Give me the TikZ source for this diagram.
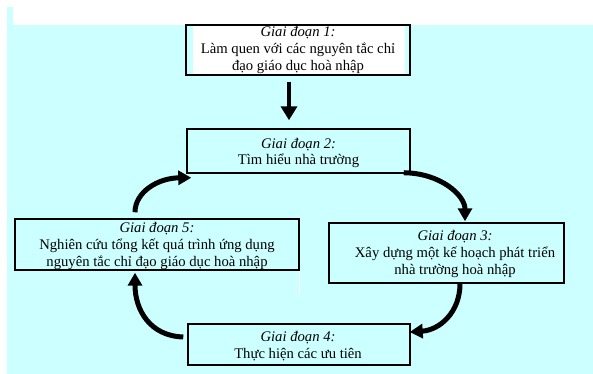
\documentclass[tikz,border=0pt]{standalone}
\usepackage{fontspec}
\setmainfont{Liberation Serif}
\usetikzlibrary{arrows.meta,fit,calc}
\definecolor{paleCyan}{RGB}{204,255,255}
\begin{document}
\begin{tikzpicture}[x=0.75pt,y=0.75pt,
  stagebox/.style={draw=black,line width=1.1pt,inner sep=0pt},
  stagetext/.style={align=center,font=\fontsize{11}{12.5}\selectfont,inner sep=0pt},
  flow/.style={line width=3.75pt,-{Triangle[length=9.75pt,width=10.5pt]}},
  drop/.style={line width=3pt,-{Triangle[length=10.5pt,width=12pt]}},
]
\useasboundingbox (0,0) rectangle (593,-374);
% page background
\fill[white] (0,0) rectangle (593,-374);
\fill[paleCyan] (7,-7) rectangle (593,-374);
\fill[white] (13,-7) rectangle (593,-25);
\fill[white] (193,-25.5) rectangle (405,-74.5);
\draw[white,line width=0.75pt] (299,-271) -- (299,-295);

% stage boxes
\node[stagebox,fit={(186,-25) (410,-75)}] (b1) {};
\node[stagebox,fit={(187,-129) (410,-173)}] (b2) {};
\node[stagebox,fit={(329,-223) (564,-283)}] (b3) {};
\node[stagebox,fit={(188,-324) (410,-365)}] (b4) {};
\node[stagebox,fit={(15,-219) (299,-270)}] (b5) {};

% stage texts
\node[stagetext] (t1) at (298,-50) {\textit{Giai đoạn 1:}\\Làm quen với các nguyên tắc chỉ\\đạo giáo dục hoà nhập};
\node[stagetext] (t2) at (298.5,-153) {\textit{Giai đoạn 2:}\\Tìm hiểu nhà trường};
\node[stagetext] (t3) at (455,-254) {\textit{Giai đoạn 3:}\\Xây dựng một kế hoạch phát triển\\nhà trường hoà nhập};
\node[stagetext] (t4) at (298,-346) {\textit{Giai đoạn 4:}\\Thực hiện các ưu tiên};
\node[stagetext] (t5) at (157,-246) {\textit{Giai đoạn 5:}\\Nghiên cứu tổng kết quá trình ứng dụng\\nguyên tắc chỉ đạo giáo dục hoà nhập};

% connectors
\draw[drop] ($(b1.south)+(-9,-6)$) -- ($(b2.north)+(-9.5,8)$);
\draw[flow] ($(b2.south east)+(-7,1)$) .. controls (440,-173) and (465,-195) .. ($(b3.north)+(18.5,1)$);
\draw[flow] ($(b3.south)+(13.5,0)$) .. controls (460,-312) and (440,-330) .. ($(b4.east)+(-1,12.5)$);
\draw[flow] ($(b4.west)+(-4,7.5)$) .. controls (150,-336) and (135,-310) .. ($(b5.south)+(-22,-2)$);
\draw[flow] ($(b5.north)+(-22,6)$) .. controls (135,-192) and (158,-178) .. ($(b2.south west)+(5,-4)$);
\end{tikzpicture}
\end{document}
